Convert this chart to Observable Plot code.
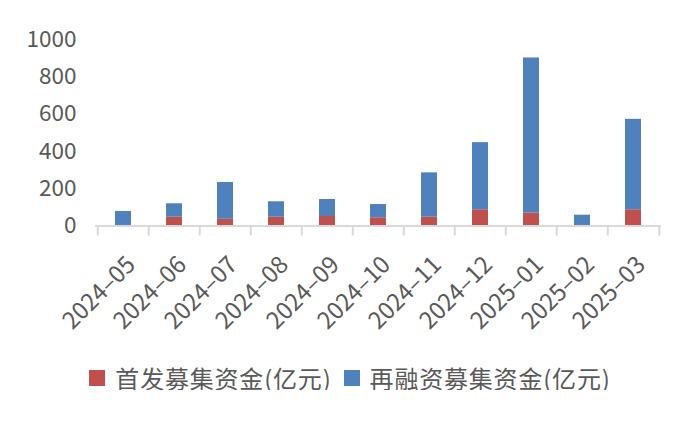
<!DOCTYPE html>
<html>
<head>
<meta charset="utf-8">
<script src="https://cdn.jsdelivr.net/npm/d3@7"></script>
<script src="https://cdn.jsdelivr.net/npm/@observablehq/plot@0.6"></script>
<style>
  html, body { margin: 0; padding: 0; background: #fff; }
  #wrap { width: 700px; font-family: "Noto Sans CJK SC", "Noto Sans", sans-serif; }
  #legend { display: flex; justify-content: center; align-items: center; margin-top: 21px; font-size: 24px; letter-spacing: 0.8px; color: #595959; line-height: 24px; }
  .item { display: flex; align-items: center; margin: 0 6px; }
  .sw { width: 16px; height: 16px; margin-right: 10px; display: inline-block; }
</style>
</head>
<body>
<div id="wrap"></div>
<script>
const months = ["2024-05","2024-06","2024-07","2024-08","2024-09","2024-10","2024-11","2024-12","2025-01","2025-02","2025-03"];
const seriesNames = ["首发募集资金(亿元)", "再融资募集资金(亿元)"];
const seriesColors = ["#C0504D", "#4F81BD"];
const ipo = [0, 47, 36, 47, 51, 44, 47, 87, 69, 0, 87];
const refinance = [78, 72, 197, 83, 91, 71, 238, 360, 832, 58, 485];
const yTicks = [0, 200, 400, 600, 800, 1000];

const rows = [];
months.forEach((m, i) => {
  rows.push({month: m, series: seriesNames[0], value: ipo[i]});
  rows.push({month: m, series: seriesNames[1], value: refinance[i]});
});

const W = 700, H = 345, mL = 95, mR = 39, mT = 39, mB = 119.5;
const step = (W - mL - mR) / months.length;

const chart = Plot.plot({
  width: W, height: H,
  marginLeft: mL, marginRight: mR, marginTop: mT, marginBottom: mB,
  style: {fontFamily: '"Noto Sans CJK SC", "Noto Sans", sans-serif', color: "#595959", background: "#fff"},
  x: {domain: months, paddingInner: 0.69, paddingOuter: 0.345},
  y: {domain: [0, 1000]},
  color: {domain: seriesNames, range: seriesColors},
  marks: [
    Plot.barY(rows, {x: "month", y: "value", fill: "series"}),
    Plot.ruleY([0], {stroke: "#d9d9d9", strokeWidth: 2}),
    Plot.ruleX(months, {x: d => d, y1: 0, y2: 0, dx: -step / 2, insetBottom: -10, stroke: "#d9d9d9", strokeWidth: 2}),
    Plot.ruleX([months[months.length - 1]], {x: d => d, y1: 0, y2: 0, dx: step / 2, insetBottom: -10, stroke: "#d9d9d9", strokeWidth: 2}),
    Plot.axisY({ticks: yTicks, tickSize: 0, tickPadding: 19, fontSize: 22.5, label: null, tickFormat: d => String(d)}),
    Plot.axisX({tickSize: 0, tickRotate: -45, fontSize: 23.5, label: null, tickPadding: 35, dx: 8, tickFormat: d => d.replace("-", "–")})
  ]
});

const wrap = document.getElementById("wrap");
wrap.appendChild(chart);
const legend = document.createElement("div");
legend.id = "legend";
seriesNames.forEach((s, i) => {
  const it = document.createElement("span");
  it.className = "item";
  const sw = document.createElement("span");
  sw.className = "sw";
  sw.style.background = seriesColors[i];
  it.appendChild(sw);
  it.appendChild(document.createTextNode(s));
  legend.appendChild(it);
});
wrap.appendChild(legend);
</script>
</body>
</html>
